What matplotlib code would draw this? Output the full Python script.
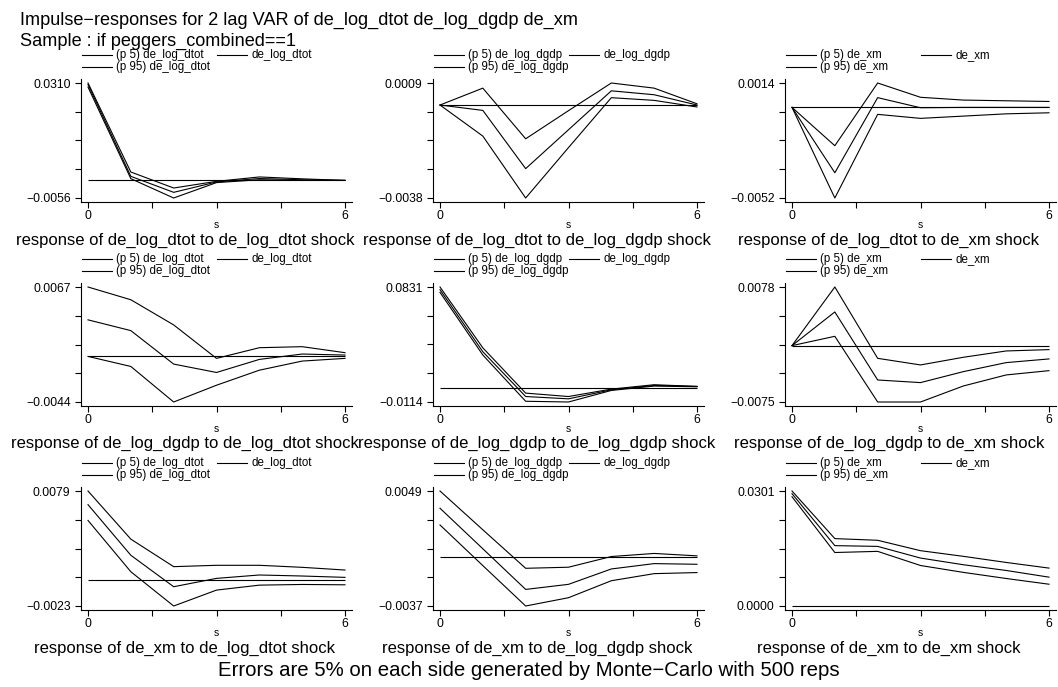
import numpy as np
import matplotlib
matplotlib.use("Agg")
from matplotlib import pyplot as plt
from matplotlib.lines import Line2D

plt.rcParams['font.family'] = ['Liberation Sans', 'DejaVu Sans']

variables = ['de_log_dtot', 'de_log_dgdp', 'de_xm']
steps = [0, 1, 2, 3, 4, 5, 6]

# row = response variable, column = impulse variable
# response of de_log_dtot
p95_dtot_dtot = [0.0310, 0.00267, -0.00242, -0.0003, 0.0011, 0.0005, 0.0]
irf_dtot_dtot = [0.0305, 0.00129, -0.00380, -0.0005, 0.0006, 0.0002, 0.0]
p5_dtot_dtot = [0.0297, 0.00055, -0.0056, -0.0007, 0.0002, 0.0, 0.0]

p95_dtot_dgdp = [0.0, 0.00069, -0.00138, -0.00023, 0.0009, 0.00069, 0.00005]
irf_dtot_dgdp = [0.0, -0.00022, -0.00260, -0.00101, 0.00058, 0.00042, 0.0]
p5_dtot_dgdp = [0.0, -0.00127, -0.0038, -0.00174, 0.00030, 0.00019, -0.00008]

p95_dtot_xm = [0.0, -0.0022, 0.0014, 0.00058, 0.00042, 0.00038, 0.00034]
irf_dtot_xm = [0.0, -0.00375, 0.00056, -0.00002, 0.0, 0.0, 0.0]
p5_dtot_xm = [0.0, -0.0052, -0.0004, -0.00063, -0.0005, -0.00037, -0.00031]

# response of de_log_dgdp
p95_dgdp_dtot = [0.0067, 0.00547, 0.00304, -0.00019, 0.00084, 0.00094, 0.00036]
irf_dgdp_dtot = [0.00353, 0.00249, -0.00074, -0.00155, -0.00029, 0.00023, 0.00013]
p5_dgdp_dtot = [0.0, -0.00097, -0.0044, -0.00278, -0.00133, -0.00045, -0.00019]

p95_dgdp_dgdp = [0.0831, 0.0331, -0.0041, -0.0069, -0.0008, 0.0028, 0.0014]
irf_dgdp_dgdp = [0.0809, 0.0299, -0.0069, -0.0088, -0.0014, 0.0022, 0.0014]
p5_dgdp_dgdp = [0.0787, 0.0272, -0.0108, -0.0114, -0.0019, 0.0017, 0.0011]

p95_dgdp_xm = [0.0, 0.0078, -0.00169, -0.00257, -0.00155, -0.00071, -0.00053]
irf_dgdp_xm = [0.0, 0.00448, -0.00457, -0.00492, -0.00346, -0.00226, -0.00177]
p5_dgdp_xm = [0.0, 0.00124, -0.0075, -0.0075, -0.00537, -0.0039, -0.00333]

# response of de_xm
p95_xm_dtot = [0.0079, 0.00363, 0.00119, 0.00131, 0.00131, 0.00113, 0.00089]
irf_xm_dtot = [0.00669, 0.0022, -0.00059, 0.00015, 0.00045, 0.00036, 0.00024]
p5_xm_dtot = [0.00529, 0.00074, -0.0023, -0.00089, -0.00045, -0.00039, -0.00042]

p95_xm_dgdp = [0.0049, 0.0020, -0.00088, -0.0008, 0.0, 0.00023, 0.00005]
irf_xm_dgdp = [0.00361, 0.00058, -0.00246, -0.00208, -0.00093, -0.00053, -0.00058]
p5_xm_dgdp = [0.00236, -0.00068, -0.0037, -0.00308, -0.00181, -0.00128, -0.0012]

p95_xm_xm = [0.0301, 0.01764, 0.0172, 0.01448, 0.0130, 0.0114, 0.00992]
irf_xm_xm = [0.0294, 0.0158, 0.0156, 0.01255, 0.0108, 0.0093, 0.00755]
p5_xm_xm = [0.0286, 0.0140, 0.0143, 0.0106, 0.0088, 0.0072, 0.0057]

panels = [
    [(p5_dtot_dtot, irf_dtot_dtot, p95_dtot_dtot),
     (p5_dtot_dgdp, irf_dtot_dgdp, p95_dtot_dgdp),
     (p5_dtot_xm, irf_dtot_xm, p95_dtot_xm)],
    [(p5_dgdp_dtot, irf_dgdp_dtot, p95_dgdp_dtot),
     (p5_dgdp_dgdp, irf_dgdp_dgdp, p95_dgdp_dgdp),
     (p5_dgdp_xm, irf_dgdp_xm, p95_dgdp_xm)],
    [(p5_xm_dtot, irf_xm_dtot, p95_xm_dtot),
     (p5_xm_dgdp, irf_xm_dgdp, p95_xm_dgdp),
     (p5_xm_xm, irf_xm_xm, p95_xm_xm)],
]

title1 = "Impulse\u2212responses for 2 lag VAR of de_log_dtot de_log_dgdp de_xm"
title2 = "Sample : if peggers_combined==1"
note = "Errors are 5% on each side generated by Monte\u2212Carlo with 500 reps"

W, H = 1058, 687
fig = plt.figure(figsize=(W / 100, H / 100), dpi=100)


def fx(px):
    return px / W


def fy(py):
    return 1 - py / H


def fmt(v):
    return ("%.4f" % v).replace('-', '\u2212')


lw = 0.8
sub_y = [240, 443, 648]
for r in range(3):
    for c in range(3):
        lo, mid, hi = panels[r][c]
        x0 = 88 + 352 * c      # pixel where step 0 sits
        x6 = 345 + 352 * c     # pixel where step 6 sits
        ytop = 83 + 204 * r
        ybot = 198 + 204 * r
        ax = fig.add_axes([fx(x0 - 7), fy(ybot + 4), 271 / W, 123 / H])

        ax.plot(steps, hi, color='black', lw=lw)
        ax.plot(steps, mid, color='black', lw=lw)
        ax.plot(steps, lo, color='black', lw=lw)
        ax.hlines(0, steps[0], steps[-1], color='black', lw=lw)

        ymin = min(min(lo), min(mid), min(hi), 0)
        ymax = max(max(lo), max(mid), max(hi), 0)
        pad_y = (ymax - ymin) * 4 / 115
        ax.set_ylim(ymin - pad_y, ymax + pad_y)
        pad_x = 6 * 7 / 257
        ax.set_xlim(-pad_x, 6 + pad_x)

        yt = np.linspace(ymin, ymax, 5)
        ax.set_yticks(yt)
        ax.set_yticklabels([fmt(ymin), '', '', '', fmt(ymax)])
        ax.set_xticks([0, 1.5, 3, 4.5, 6])
        ax.set_xticklabels(['0', '', '', '', '6'])
        ax.tick_params(direction='out', length=4, width=0.8, labelsize=8.7,
                       colors='black')
        ax.tick_params(axis='y', pad=3.5)
        ax.tick_params(axis='x', pad=1.5)
        for s in ['top', 'right']:
            ax.spines[s].set_visible(False)
        for s in ['left', 'bottom']:
            ax.spines[s].set_linewidth(0.8)
        ax.patch.set_alpha(0)

        # legend drawn by hand, stata style fixed columns
        left = x0 - 7
        y1 = ytop - 4 - 24
        y2 = ytop - 4 - 12.3
        imp = variables[c]
        entries = [(left + 1, y1, "(p 5) " + imp),
                   (left + 136, y1, imp),
                   (left + 1, y2, "(p 95) " + imp)]
        for lx, ly, txt in entries:
            fig.add_artist(Line2D([fx(lx), fx(lx + 30)], [fy(ly), fy(ly)],
                                  color='black', lw=0.8))
            fig.text(fx(lx + 34), fy(ly), txt, fontsize=8.3, va='center',
                     ha='left')

        fig.text(fx((x0 + x6) / 2), fy(ybot + 27), 's', fontsize=7.5,
                 ha='center', va='center')
        fig.text(fx(185 + 352 * c), fy(sub_y[r]),
                 "response of %s to %s shock" % (variables[r], imp),
                 fontsize=12, ha='center', va='center')

fig.text(fx(20), fy(25), title1, fontsize=13.1, ha='left', va='baseline')
fig.text(fx(20), fy(46), title2, fontsize=13.1, ha='left', va='baseline')
fig.text(fx(529), fy(670), note, fontsize=14.7, ha='center', va='center')

fig.savefig("out.png", dpi=100)
